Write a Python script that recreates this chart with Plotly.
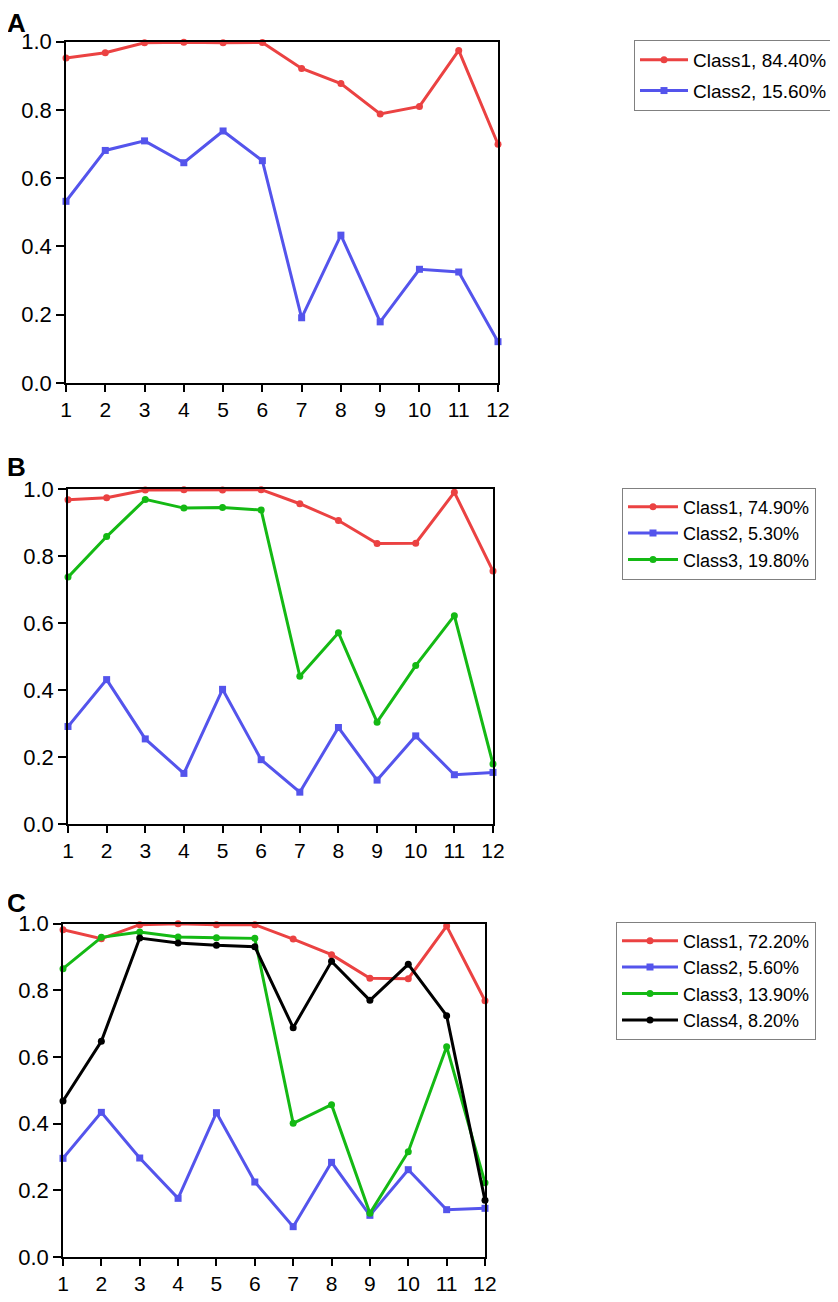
import plotly.graph_objects as go

# the page body adds an 8px margin; the figure is sized and placed to compensate
OFF = 8
W, H = 838 - 2 * OFF, 1302 - 2 * OFF

x_ticks = list(range(1, 13))
y_ticks = [0.0, 0.2, 0.4, 0.6, 0.8, 1.0]

# Panel A
a_class1 = [0.952, 0.967, 0.996, 0.998, 0.996, 0.997, 0.921, 0.877, 0.788, 0.810, 0.974, 0.699]
a_class2 = [0.532, 0.681, 0.709, 0.645, 0.738, 0.651, 0.191, 0.433, 0.179, 0.333, 0.325, 0.121]
a_names = ["Class1, 84.40%", "Class2, 15.60%"]

# Panel B
b_class1 = [0.968, 0.974, 0.997, 0.998, 0.997, 0.998, 0.956, 0.906, 0.837, 0.838, 0.990, 0.755]
b_class2 = [0.291, 0.431, 0.254, 0.151, 0.402, 0.192, 0.095, 0.288, 0.131, 0.263, 0.147, 0.154]
b_class3 = [0.737, 0.858, 0.969, 0.943, 0.945, 0.937, 0.441, 0.571, 0.304, 0.473, 0.622, 0.179]
b_names = ["Class1, 74.90%", "Class2, 5.30%", "Class3, 19.80%"]

# Panel C
c_class1 = [0.982, 0.955, 0.997, 1.000, 0.997, 0.997, 0.954, 0.907, 0.836, 0.835, 0.993, 0.769]
c_class2 = [0.296, 0.434, 0.297, 0.176, 0.433, 0.225, 0.091, 0.284, 0.125, 0.262, 0.142, 0.146]
c_class3 = [0.865, 0.959, 0.975, 0.960, 0.958, 0.956, 0.401, 0.457, 0.131, 0.316, 0.631, 0.223]
c_class4 = [0.468, 0.647, 0.957, 0.942, 0.935, 0.931, 0.688, 0.887, 0.770, 0.878, 0.724, 0.170]
c_names = ["Class1, 72.20%", "Class2, 5.60%", "Class3, 13.90%", "Class4, 8.20%"]

panel_labels = ["A", "B", "C"]

RED = "#EB4242"
BLUE = "#5454EC"
GREEN = "#14B914"
BLACK = "#000000"
styles = [(RED, "circle", 7), (BLUE, "square", 7), (GREEN, "circle", 7), (BLACK, "circle", 7)]

FONT = "Liberation Sans, Arial, sans-serif"

# pixel layout of each panel in the target picture: (left, right, top, bottom)
boxes = [(66, 498, 41.5, 383), (68, 493, 489, 824), (63, 485, 923.7, 1257)]
# legend box left edge and vertical centre
legend_pos = [(634, 75.5), (622, 533.5), (616, 980.5)]
legend_font = [19, 18, 18]
legend_gap = [3, 0, 0]
legend_itemw = [48, 50, 56]
label_pos = [(5, 23), (5, 467), (5, 903)]

panels = [
    ([a_class1, a_class2], a_names),
    ([b_class1, b_class2, b_class3], b_names),
    ([c_class1, c_class2, c_class3, c_class4], c_names),
]


def fx(px):
    return (px - OFF) / W


def fy(py):
    return 1 - (py - OFF) / H


fig = go.Figure()
legend_keys = ["legend", "legend2", "legend3"]

for p, (series, names) in enumerate(panels):
    ax = "" if p == 0 else str(p + 1)
    for i, (vals, name) in enumerate(zip(series, names)):
        col, sym, sz = styles[i]
        fig.add_trace(go.Scatter(
            x=x_ticks, y=vals, name=name, mode="lines+markers",
            line=dict(color=col, width=3),
            marker=dict(color=col, symbol=sym, size=sz),
            xaxis="x" + ax, yaxis="y" + ax,
            legend=legend_keys[p], legendgroup=f"p{p}s{i}",
            cliponaxis=False,
        ))

layout = dict(
    template="none",
    width=W, height=H,
    margin=dict(l=0, r=0, t=0, b=0, autoexpand=False),
    paper_bgcolor="white", plot_bgcolor="white",
    font=dict(family=FONT, color="black"),
    showlegend=True,
    annotations=[],
)

for p in range(3):
    l, r, t, b = boxes[p]
    ax = "" if p == 0 else str(p + 1)
    common = dict(showline=True, linecolor="black", linewidth=1.5, mirror=True,
                  ticks="outside", tickwidth=1.5, tickcolor="black",
                  showgrid=False, zeroline=False, automargin=False)
    layout["xaxis" + ax] = dict(domain=[fx(l), fx(r)], range=[1, 12], ticklen=7,
                                tickvals=x_ticks, anchor="y" + ax,
                                tickfont=dict(family=FONT, size=21, color="black"),
                                **common)
    layout["yaxis" + ax] = dict(domain=[fy(b), fy(t)], range=[0, 1], ticklen=8,
                                tickvals=y_ticks, tickformat=".1f", anchor="x" + ax,
                                tickfont=dict(family=FONT, size=22, color="black"),
                                **common)
    lx, ly = legend_pos[p]
    layout[legend_keys[p]] = dict(
        x=fx(lx), y=fy(ly), xanchor="left", yanchor="middle",
        bordercolor="#808080", borderwidth=1, bgcolor="white",
        font=dict(family=FONT, size=legend_font[p], color="black"),
        traceorder="grouped", tracegroupgap=legend_gap[p], itemwidth=legend_itemw[p],
    )
    px, py = label_pos[p]
    layout["annotations"].append(dict(
        text="<b>%s</b>" % panel_labels[p], x=fx(px), y=fy(py),
        xref="paper", yref="paper", xanchor="left", yanchor="middle",
        showarrow=False, font=dict(family=FONT, size=26, color="black"),
    ))

fig.update_layout(**layout)
fig.write_html("out.html")
